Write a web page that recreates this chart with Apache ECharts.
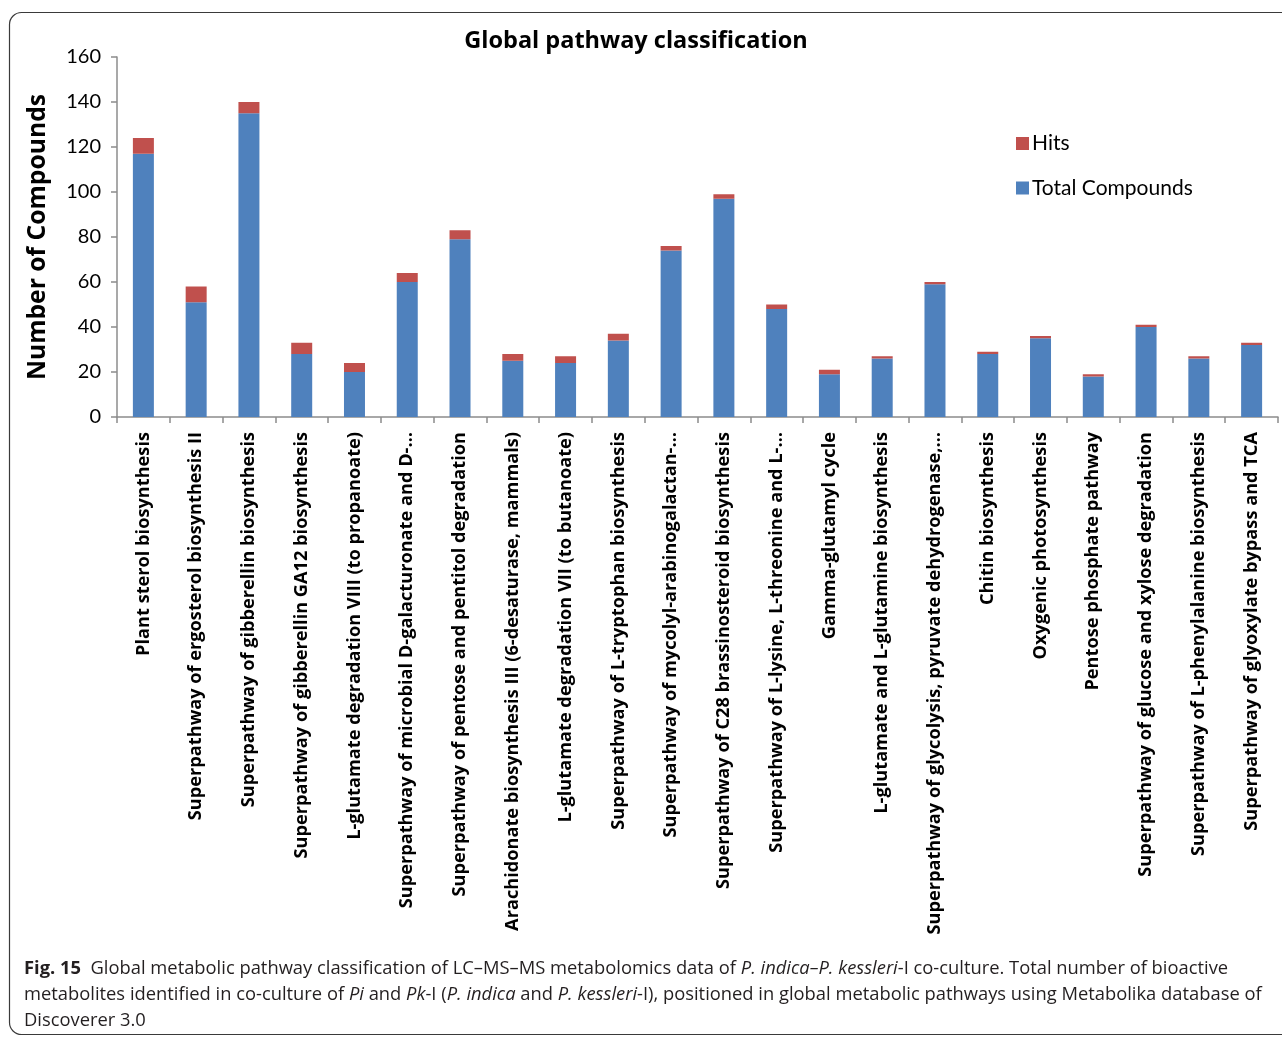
<!DOCTYPE html>
<html>
<head>
<meta charset="utf-8">
<title>Global pathway classification</title>
<script src="https://cdn.jsdelivr.net/npm/echarts@6/dist/echarts.min.js"></script>
<style>
  html, body { margin: 0; padding: 0; background: #ffffff; }
  #chart { width: 1282px; height: 1039px; }
</style>
</head>
<body>
<div id="chart"></div>
<script>
// Pathway names (long ones are shortened with an ellipsis, as on the axis)
const pathways = [
  'Plant sterol biosynthesis',
  'Superpathway of ergosterol biosynthesis II',
  'Superpathway of gibberellin biosynthesis',
  'Superpathway of gibberellin GA12 biosynthesis',
  'L-glutamate degradation VIII (to propanoate)',
  'Superpathway of microbial D-galacturonate and D-…',
  'Superpathway of pentose and pentitol degradation',
  'Arachidonate biosynthesis III (6-desaturase, mammals)',
  'L-glutamate degradation VII (to butanoate)',
  'Superpathway of L-tryptophan biosynthesis',
  'Superpathway of mycolyl-arabinogalactan-…',
  'Superpathway of C28 brassinosteroid biosynthesis',
  'Superpathway of L-lysine, L-threonine and L-…',
  'Gamma-glutamyl cycle',
  'L-glutamate and L-glutamine biosynthesis',
  'Superpathway of glycolysis, pyruvate dehydrogenase,…',
  'Chitin biosynthesis',
  'Oxygenic photosynthesis',
  'Pentose phosphate pathway',
  'Superpathway of glucose and xylose degradation',
  'Superpathway of L-phenylalanine biosynthesis',
  'Superpathway of glyoxylate bypass and TCA'
];

// Stacked values: total compounds (lower segment) and hits (upper segment)
const totalCompounds = [117, 51, 135, 28, 20, 60, 79, 25, 24, 34, 74, 97, 48, 19, 26, 59, 28, 35, 18, 40, 26, 32];
const hits = [7, 7, 5, 5, 4, 4, 4, 3, 3, 3, 2, 2, 2, 2, 1, 1, 1, 1, 1, 1, 1, 1];

// Value axis ticks
const yTicks = [0, 20, 40, 60, 80, 100, 120, 140, 160];

const chartTitle = 'Global pathway classification';
const yAxisTitle = 'Number of Compounds';

const captionLines = [
  '{b|Fig. 15}  Global metabolic pathway classification of LC–MS–MS metabolomics data of {i|P. indica–P. kessleri}-I co-culture. Total number of bioactive',
  'metabolites identified in co-culture of {i|Pi} and {i|Pk}-I ({i|P. indica} and {i|P. kessleri}-I), positioned in global metabolic pathways using Metabolika database of',
  'Discoverer 3.0'
];

const FONT = 'Lato, "Open Sans", "Liberation Sans", sans-serif';
const BOLD_FONT = '"Open Sans", "Liberation Sans", sans-serif';
const BLUE = '#4F81BD';
const RED = '#C0504D';
const AXIS_GREY = '#8c8c8c';
const CAPTION_SIZE = 18.35;

const chart = echarts.init(document.getElementById('chart'), null, { renderer: 'canvas' });

const captionStyle = {
  fontFamily: '"Open Sans", Lato, sans-serif',
  fontSize: CAPTION_SIZE,
  fill: '#231f20',
  rich: {
    b: { fontFamily: '"Open Sans", Lato, sans-serif', fontSize: CAPTION_SIZE, fontWeight: 'bold', color: '#231f20' },
    i: { fontFamily: '"Open Sans", Lato, sans-serif', fontSize: CAPTION_SIZE, fontStyle: 'italic', color: '#231f20' }
  }
};

chart.setOption({
  animation: false,
  backgroundColor: '#ffffff',
  textStyle: { fontFamily: FONT },
  title: {
    text: chartTitle,
    left: 631,
    textAlign: 'center',
    top: 24,
    textStyle: { fontFamily: BOLD_FONT, fontSize: 23.5, fontWeight: 'bold', color: '#000' }
  },
  legend: {
    data: ['Hits', 'Total Compounds'],
    orient: 'vertical',
    left: 1011,
    top: 128,
    itemWidth: 13,
    itemHeight: 13,
    itemGap: 23.5,
    icon: 'rect',
    textStyle: { fontFamily: FONT, fontSize: 21, color: '#000', padding: [0, 0, 0, -2] }
  },
  grid: { left: 117, right: 4, top: 57, bottom: 622, containLabel: false },
  xAxis: {
    type: 'category',
    data: pathways,
    axisLine: { show: true, lineStyle: { color: AXIS_GREY, width: 1.5 } },
    axisTick: { show: true, length: 6, lineStyle: { color: AXIS_GREY, width: 1.5 } },
    axisLabel: {
      interval: 0,
      rotate: 90,
      margin: 15,
      fontFamily: BOLD_FONT,
      fontSize: 18.2,
      fontWeight: 'bold',
      color: '#000'
    }
  },
  yAxis: {
    type: 'value',
    min: yTicks[0],
    max: yTicks[yTicks.length - 1],
    interval: yTicks[1] - yTicks[0],
    name: yAxisTitle,
    nameLocation: 'middle',
    nameGap: 67,
    nameRotate: 90,
    nameTextStyle: { fontFamily: BOLD_FONT, fontSize: 24.7, fontWeight: 'bold', color: '#000' },
    axisLine: { show: true, lineStyle: { color: AXIS_GREY, width: 1.5 } },
    axisTick: { show: true, length: 6, lineStyle: { color: AXIS_GREY, width: 1.5 } },
    splitLine: { show: false },
    axisLabel: { fontFamily: FONT, fontSize: 20, color: '#000', margin: 16 }
  },
  series: [
    {
      name: 'Total Compounds',
      type: 'bar',
      stack: 'pathway',
      barWidth: 21,
      itemStyle: { color: BLUE },
      data: totalCompounds
    },
    {
      name: 'Hits',
      type: 'bar',
      stack: 'pathway',
      barWidth: 21,
      itemStyle: { color: RED },
      data: hits
    }
  ],
  graphic: [
    {
      type: 'rect',
      silent: true,
      shape: { x: 9.5, y: 12.5, width: 1300, height: 1022, r: 12 },
      style: { fill: 'none', stroke: '#3a3a3a', lineWidth: 1.2 }
    },
    ...captionLines.map((line, k) => ({
      type: 'text',
      silent: true,
      left: 24,
      top: 960 + k * 26,
      style: Object.assign({ text: line }, captionStyle)
    }))
  ]
});
</script>
</body>
</html>
